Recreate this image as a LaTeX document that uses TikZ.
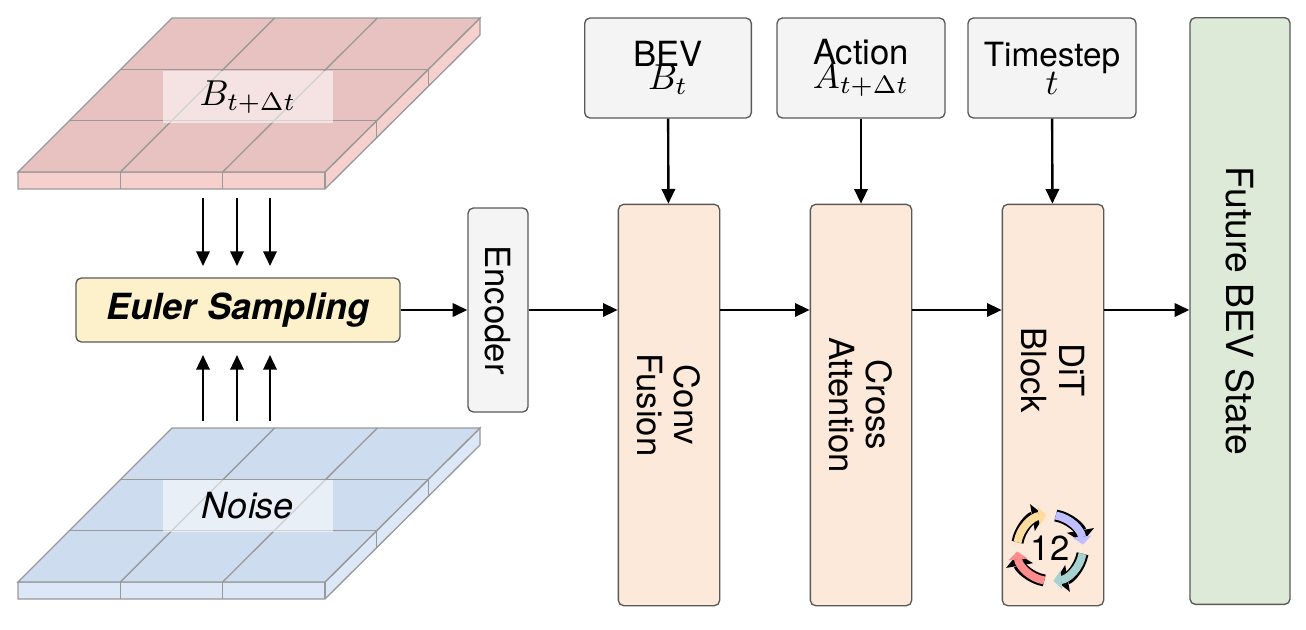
\documentclass[tikz,border=0pt]{standalone}
\usepackage{fontspec}
\setmainfont{TeX Gyre Heros}
\usetikzlibrary{arrows.meta,calc}
\definecolor{peach}{HTML}{FDE9D9}
\definecolor{eul}{HTML}{FDF1CC}
\definecolor{grayb}{HTML}{F4F4F4}
\definecolor{greenb}{HTML}{DDEAD8}
\definecolor{redT}{HTML}{E8C2C0}
\definecolor{redS}{HTML}{F6D0CD}
\definecolor{bluT}{HTML}{CDDCEE}
\definecolor{bluS}{HTML}{DCE8F8}
\newcommand{\mygrid}[3]{%
 \begin{scope}[shift={(0,#1)}]
  \fill[#3,draw=gray!80,line width=1pt] (18,154)--(325,154)--(480,0)--(480,17)--(325,171)--(18,171)--cycle;
  \fill[#2,draw=gray!80,line width=1pt] (18,154)--(325,154)--(480,0)--(172,0)--cycle;
  \foreach \i in {1,2}{
    \draw[gray!80,line width=1pt] ($(18,154)!\i/3!(325,154)$)--($(172,0)!\i/3!(480,0)$);
    \draw[gray!80,line width=1pt] ($(18,154)!\i/3!(172,0)$)--($(325,154)!\i/3!(480,0)$);
    \draw[gray!80,line width=1pt] ($(18,154)!\i/3!(325,154)$)--++(0,17);
    \draw[gray!80,line width=1pt] ($(325,154)!\i/3!(480,0)$)--++(0,17);
  }
  \draw[gray!80,line width=1pt] (325,154)--(325,171);
 \end{scope}}
\tikzset{
 box/.style={draw=gray!70!black,line width=1pt,rounded corners=4pt},
 arr/.style={-{Triangle[length=11pt,width=10pt]},line width=1.8pt},
 lbl/.style={font=\fontsize{26}{28}\selectfont,align=center},
 tag/.style={fill=white,fill opacity=0.55,text opacity=1,minimum width=128pt,minimum height=39pt,inner sep=0},
}
\newcommand{\bm}[1]{\scalebox{2.7}{$#1$}}
\begin{document}
\begin{tikzpicture}[x=0.75pt,y=-0.75pt]
\useasboundingbox (0,0) rectangle (1306,629);
\mygrid{18}{redT}{redS}
\node[tag] (bt) at (248,97) {\bm{B_{t+\Delta t}}};
\mygrid{428}{bluT}{bluS}
\node[tag] (nz) at (248,506) {\bm{\mathit{Noise}}};

\node[box,fill=eul,minimum width=243pt,minimum height=48pt] (eu) at (238,310) {\fontsize{27}{28}\selectfont\bfseries\itshape Euler Sampling};
\node[box,fill=grayb,minimum width=45pt,minimum height=153pt] (en) at (498,310) {};
\node[rotate=-90,lbl] at (en) {Encoder};
\node[box,fill=peach,minimum width=76pt,minimum height=301pt] (cf) at (669,405) {};
\node[rotate=-90,lbl] at (cf) {Conv\\Fusion};
\node[box,fill=peach,minimum width=76pt,minimum height=301pt] (ca) at (861,405) {};
\node[rotate=-90,lbl] at (ca) {Cross\\Attention};
\node[box,fill=peach,minimum width=76pt,minimum height=301pt] (dit) at (1053,405) {};
\node[rotate=-90,lbl] at (1053,370) {DiT\\Block};
\node[box,fill=greenb,minimum width=75pt,minimum height=440pt] (fb) at (1240,311) {};
\node[rotate=-90,lbl,font=\fontsize{28}{30}\selectfont] at (fb) {Future BEV State};

\node[box,fill=grayb,minimum width=125pt,minimum height=75pt,align=center,inner sep=0] (bev) at (668,68) {\fontsize{26}{26}\selectfont BEV\\[-2pt]\bm{B_t}};
\node[box,fill=grayb,minimum width=126pt,minimum height=75pt,align=center,inner sep=0] (act) at (861,68) {\fontsize{26}{26}\selectfont Action\\[-2pt]\bm{A_{t+\Delta t}}};
\node[box,fill=grayb,minimum width=126pt,minimum height=75pt,align=center,inner sep=0] (ts) at (1052,68) {\fontsize{25}{26}\selectfont Timestep\\[-2pt]\bm{t}};

% cycle icon (visual angles: v -> (-v))
\begin{scope}[shift={(1050,548)}]
 \foreach \s/\e/\c in {170/100/yellow!30!orange!35,80/10/blue!25,-10/-80/teal!35,-100/-170/red!45}{
  \draw[line width=9pt,black,-{Triangle[length=9pt,width=20pt]}] (-\s:33) arc (-\s:-\e:33);
  \draw[line width=6pt,\c,-{Triangle[length=6pt,width=14pt]}] (-\s:33) arc (-\s:-\e+4:33);
 }
 \node[font=\fontsize{26}{26}\selectfont] (tw) at (0,0) {12};
\end{scope}

\draw[arr] (bev) -- (cf);
\draw[arr] (act) -- (ca);
\draw[arr] (ts) -- (dit);
\draw[arr] (eu) -- (en);
\draw[arr] (en) -- (en -| cf.west);
\draw[arr] (cf.east |- en) -- (ca.west |- en);
\draw[arr] (ca.east |- en) -- (dit.west |- en);
\draw[arr] (dit.east |- en) -- (fb.west |- en);
\foreach \x in {203,237,270}{
 \draw[arr] (\x,198) -- (\x,266);
 \draw[arr] (\x,421) -- (\x,355);
}
\end{tikzpicture}
\end{document}
